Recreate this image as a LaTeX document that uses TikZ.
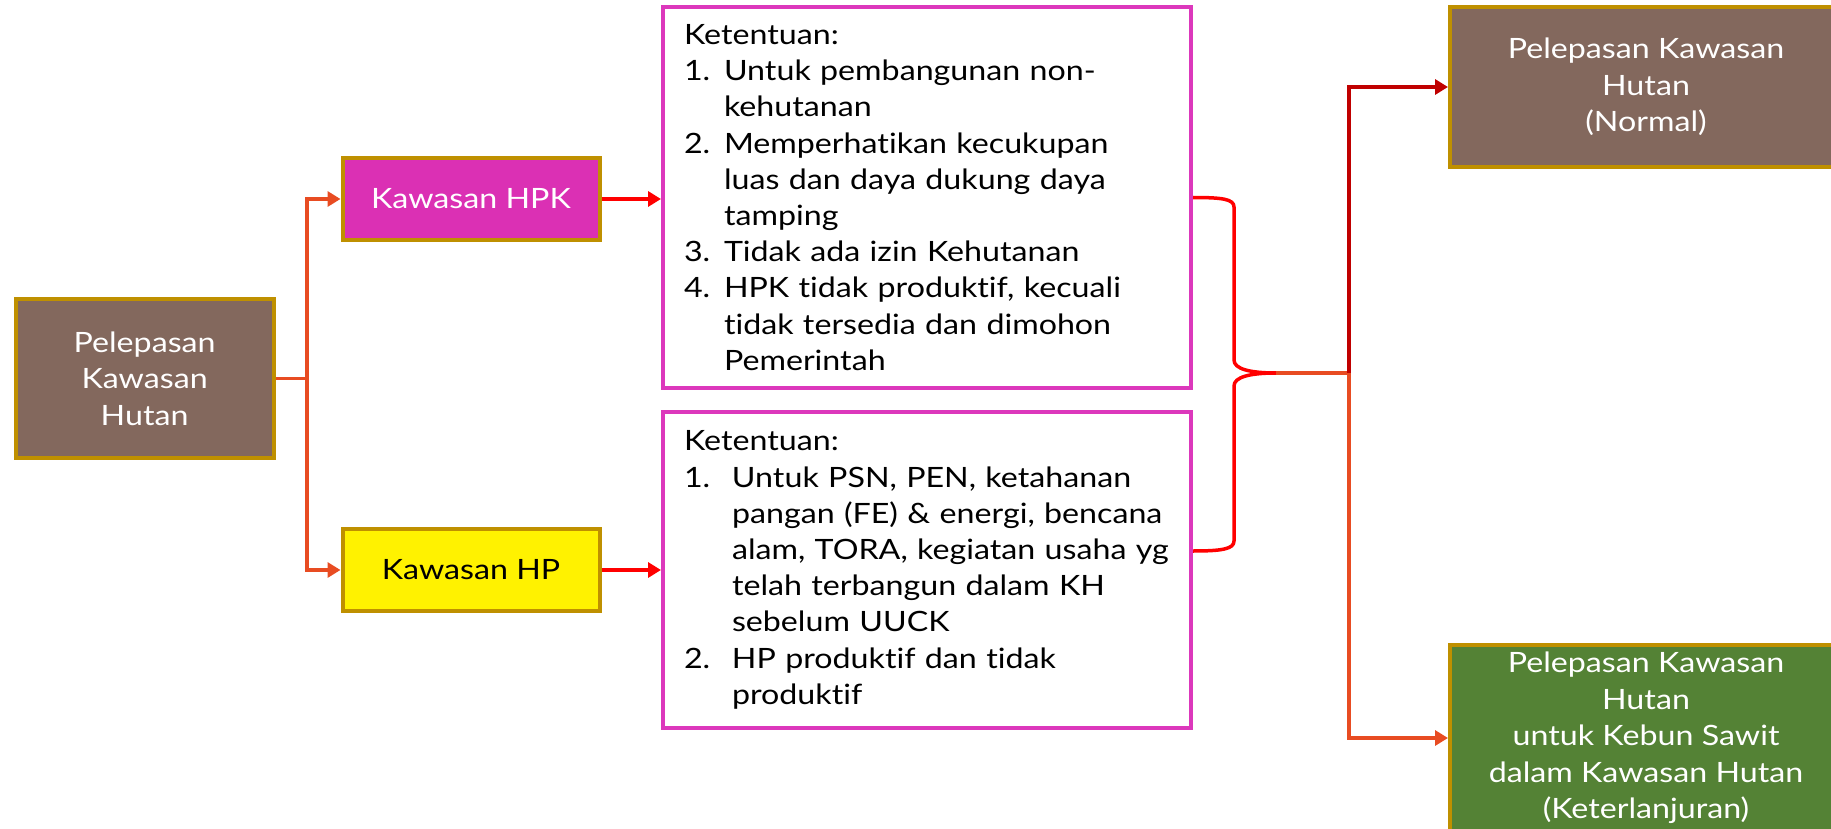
\documentclass[tikz,border=0pt]{standalone}
\usepackage{fontspec}
\setmainfont{Lato}[Ligatures={NoCommon,NoRare,NoContextual}, FakeStretch=1.15]
\usetikzlibrary{arrows.meta}
\definecolor{brownfill}{HTML}{83685D}
\definecolor{goldline}{HTML}{BF9000}
\definecolor{magfill}{HTML}{DB30B4}
\definecolor{magline}{HTML}{DC38BC}
\definecolor{greenfill}{HTML}{548235}
\definecolor{orangeline}{HTML}{E84C22}
\definecolor{darkred}{HTML}{C00000}
\begin{document}
\begin{tikzpicture}[x=1pt,y=-1pt,
  goldbox/.style={draw=goldline, line width=4pt, inner sep=0pt, align=center,
    font=\fontsize{28}{36.5}\selectfont},
  pinkbox/.style={draw=magline, line width=4pt, fill=white, inner xsep=21pt, inner ysep=0pt,
    minimum width=528pt, text width=486pt, align=left,
    font=\fontsize{28}{36.2}\selectfont},
  conn/.style={line width=3.5pt},
  tipa/.style={-{Triangle[length=13pt,width=15pt]}}
]
\useasboundingbox (0,0) rectangle (1831,829);
\clip (0,0) rectangle (1831,829);

% left main box
\node[goldbox, fill=brownfill, text=white, minimum width=258pt, minimum height=159pt]
  (pel) at (144.6,378.5) {Pelepasan\\Kawasan\\Hutan};
\node[goldbox, fill=magfill, text=white, minimum width=257pt, minimum height=82pt]
  (hpk) at (471,199) {Kawasan HPK};
\node[goldbox, fill=yellow, text=black, minimum width=257pt, minimum height=82pt]
  (hp) at (471,570) {Kawasan HP};

% condition boxes
\node[pinkbox, minimum height=381pt] (box1) at (927,197.5) {%
Ketentuan:\\
\makebox[40pt][l]{1.}Untuk pembangunan non-\\
\hspace*{40pt}kehutanan\\
\makebox[40pt][l]{2.}Memperhatikan kecukupan\\
\hspace*{40pt}luas dan daya dukung daya\\
\hspace*{40pt}tamping\\
\makebox[40pt][l]{3.}Tidak ada izin Kehutanan\\
\makebox[40pt][l]{4.}HPK tidak produktif, kecuali\\
\hspace*{40pt}tidak tersedia dan dimohon\\
\hspace*{40pt}Pemerintah};
\node[pinkbox, minimum height=316pt] (box2) at (927,570) {%
Ketentuan:\\
\makebox[48pt][l]{1.}Untuk PSN, PEN, ketahanan\\
\hspace*{48pt}pangan (FE) \& energi, bencana\\
\hspace*{48pt}alam, TORA, kegiatan usaha yg\\
\hspace*{48pt}telah terbangun dalam KH\\
\hspace*{48pt}sebelum UUCK\\
\makebox[48pt][l]{2.}HP produktif dan tidak\\
\hspace*{48pt}produktif};

% result boxes
\node[goldbox, fill=brownfill, text=white, minimum width=392pt, minimum height=160pt]
  (normal) at (1646,87) {Pelepasan Kawasan\\Hutan\\(Normal)};
\node[goldbox, fill=greenfill, text=white, minimum width=392pt, minimum height=186pt]
  (sawit) at (1646,738) {Pelepasan Kawasan\\Hutan\\untuk Kebun Sawit\\dalam Kawasan Hutan\\(Keterlanjuran)};

% left connectors
\coordinate (trunk) at (307,378.5);
\draw[conn, draw=orangeline] (pel.east) -- (trunk);
\draw[conn, draw=orangeline, tipa] (trunk) |- (hpk.west);
\draw[conn, draw=orangeline, tipa] (trunk) |- (hp.west);

% to condition boxes
\draw[conn, draw=red, tipa] (hpk.east) -- (box1.west |- hpk.east);
\draw[conn, draw=red, tipa] (hp.east) -- (box2.west |- hp.east);

% brace
\coordinate (tip) at (1276,373);
\coordinate (junc) at (1349,373);
\draw[conn, draw=red, line join=round]
  (box1.east) .. controls (1222,197.5) and (1234,199) .. (1234,207)
  -- (1234,360) .. controls (1234,369) and (1250,373) .. (tip)
  .. controls (1250,373) and (1234,377) .. (1234,386)
  -- (1234,541) .. controls (1234,549) and (1222,551) .. ([yshift=19pt]box2.east);

% right connectors
\draw[conn, draw=orangeline] (tip) -- (junc);
\draw[conn, draw=darkred, tipa] (junc) |- (normal.west);
\draw[conn, draw=orangeline, tipa] (junc) |- (sawit.west);
\end{tikzpicture}
\end{document}
